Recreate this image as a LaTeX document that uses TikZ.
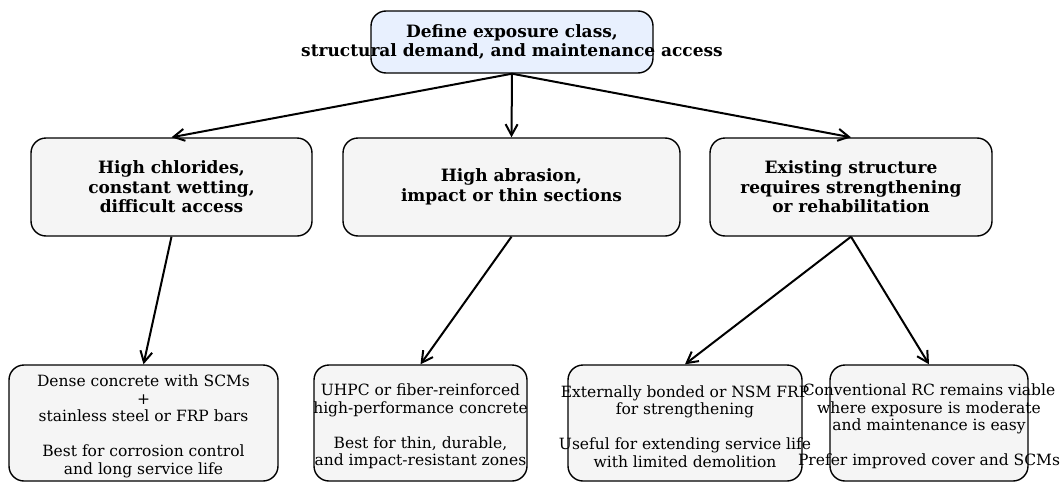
\documentclass[tikz,border=0pt]{standalone}
\usepackage{fontspec}
\setmainfont{DejaVu Serif}
\usetikzlibrary{arrows.meta}
\definecolor{topfill}{HTML}{E8F0FE}
\definecolor{boxfill}{HTML}{F5F5F5}
\tikzset{%
	frame/.style = {draw,rounded corners=15pt,line width=1.4pt,inner sep=0},
	topbox/.style = {frame,fill=topfill,minimum width=282pt,minimum height=62pt},
	midbox/.style = {frame,fill=boxfill,minimum height=98pt},
	botbox/.style = {frame,fill=boxfill,minimum height=116pt},
	headtxt/.style = {align=center,inner sep=0,font=\fontsize{17}{19.5}\selectfont\bfseries},
	bodytxt/.style = {align=center,inner sep=0,yshift=-3.5pt,font=\fontsize{15.5}{17.5}\selectfont},
	link/.style = {line width=2pt,-{Straight Barb[length=11pt,width=12pt]}}%
}

\begin{document}
\begin{tikzpicture}[x=1pt,y=-1pt]
	\useasboundingbox (0,0) rectangle (1063,482);
	
	% boxes
	\node(top)[topbox] at (512,42){};
	\node(chl)[midbox,minimum width=281pt] at (171.5,187){};
	\node(abr)[midbox,minimum width=337pt] at (511.5,187){};
	\node(exi)[midbox,minimum width=282pt] at (851,187){};
	\node(dense)[botbox,minimum width=269pt] at (143.5,423){};
	\node(uhpc)[botbox,minimum width=213pt] at (420.5,423){};
	\node(frp)[botbox,minimum width=234pt] at (685,423){};
	\node(conv)[botbox,minimum width=198pt] at (929,423){};
	
	% arrows
	\draw[link](top.south)--(chl.north);
	\draw[link](top.south)--(abr.north);
	\draw[link](top.south)--(exi.north);
	\draw[link](chl.south)--(dense.north);
	\draw[link](abr.south)--(uhpc.north);
	\draw[link](exi.south)--(frp.north);
	\draw[link](exi.south)--(conv.north);
	
	% texts
	\node(top-t)[headtxt] at (top){Define exposure class,\\structural demand, and maintenance access};
	\node(chl-t)[headtxt] at (chl){High chlorides,\\constant wetting,\\difficult access};
	\node(abr-t)[headtxt] at (abr){High abrasion,\\impact or thin sections};
	\node(exi-t)[headtxt] at (exi){Existing structure\\requires strengthening\\or rehabilitation};
	\node(dense-t)[bodytxt] at (dense){Dense concrete with SCMs\\+\\stainless steel or FRP bars\\[17.5pt]Best for corrosion control\\and long service life};
	\node(uhpc-t)[bodytxt] at (uhpc){UHPC or fiber-reinforced\\high-performance concrete\\[17.5pt]Best for thin, durable,\\and impact-resistant zones};
	\node(frp-t)[bodytxt] at (frp){Externally bonded or NSM FRP\\for strengthening\\[17.5pt]Useful for extending service life\\with limited demolition};
	\node(conv-t)[bodytxt] at (conv){Conventional RC remains viable\\where exposure is moderate\\and maintenance is easy\\[17.5pt]Prefer improved cover and SCMs};
\end{tikzpicture}
\end{document}
